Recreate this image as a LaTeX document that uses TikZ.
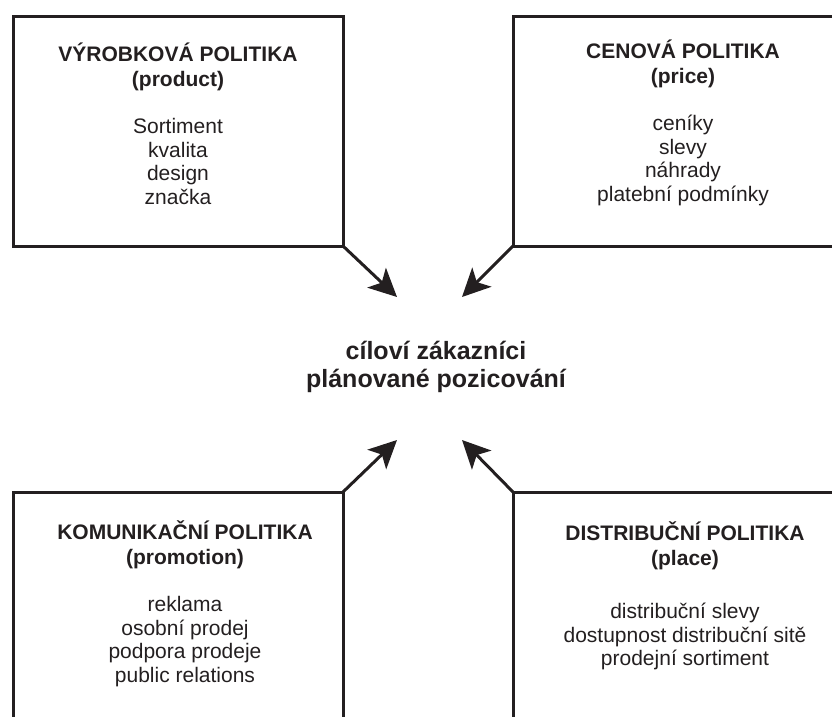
\documentclass[tikz,border=0pt]{standalone}
\usepackage{fontspec}
\setmainfont{Liberation Sans}
\usetikzlibrary{arrows.meta}
\definecolor{ink}{HTML}{231F20}

\begin{document}
\begin{tikzpicture}[x=1pt,y=-1pt,>={Stealth[length=28pt,width=27pt,inset=7pt]},
  box/.style={draw=ink,line width=3pt,minimum width=330pt,minimum height=230pt,inner sep=0pt,outer sep=0pt},
  txt/.style={align=center,text=ink,inner sep=0pt,font=\fontsize{21}{23.5}\selectfont},
  goal/.style={align=center,text=ink,inner sep=0pt,font=\fontsize{25}{28}\selectfont\bfseries},
  arr/.style={->,draw=ink,line width=3pt}]
\clip (0,0) rectangle (832,716);
% the four boxes
\node[box] (product) at (178,131) {};
\node[box] (price) at (678,131) {};
\node[box] (promotion) at (178,607) {};
\node[box] (place) at (678,607) {};
\node[txt] (productTxt) at (178,124) {\textbf{VÝROBKOVÁ POLITIKA}\\[1pt]\textbf{(product)}\\[24pt]Sortiment\\kvalita\\design\\značka};
\node[txt] (priceTxt) at (683,123) {\textbf{CENOVÁ POLITIKA}\\[1pt]\textbf{(price)}\\[24pt]ceníky\\slevy\\náhrady\\platební podmínky};
\node[txt] (promotionTxt) at (185,604) {\textbf{KOMUNIKAČNÍ POLITIKA}\\[1pt]\textbf{(promotion)}\\[24pt]reklama\\osobní prodej\\podpora prodeje\\public relations};
\node[txt] (placeTxt) at (685,596) {\textbf{DISTRIBUČNÍ POLITIKA}\\[1pt]\textbf{(place)}\\[30pt]distribuční slevy\\dostupnost distribuční sitě\\prodejní sortiment};
% the centre
\node[goal] (goal) at (436,367) {cíloví zákazníci\\plánované pozicování};
\coordinate (tipA) at (397,297);
\coordinate (tipB) at (462,297);
\coordinate (tipC) at (397,440);
\coordinate (tipD) at (462,440);
\draw[arr] (product.south east) -- (tipA);
\draw[arr] (price.south west) -- (tipB);
\draw[arr] (promotion.north east) -- (tipC);
\draw[arr] (place.north west) -- (tipD);
\end{tikzpicture}
\end{document}
